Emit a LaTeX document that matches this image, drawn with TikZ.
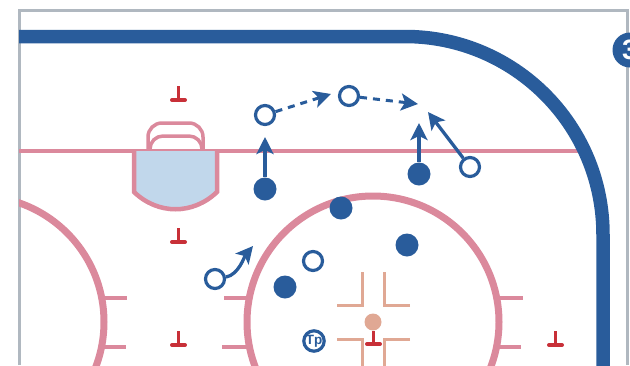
\documentclass[tikz,border=0pt]{standalone}
\usepackage{fontspec}
\setmainfont{Liberation Sans}
\usetikzlibrary{arrows.meta,positioning}
\definecolor{RinkBlue}{RGB}{41,92,155}
\definecolor{RinkPink}{RGB}{219,137,156}
\definecolor{RinkGray}{RGB}{176,184,192}
\definecolor{RinkRed}{RGB}{200,48,56}
\definecolor{RinkSalmon}{RGB}{224,168,148}
\definecolor{CreaseBlue}{RGB}{193,215,235}

\begin{document}
\begin{tikzpicture}[
  x=1pt,y=-1pt,
  pinkline/.style={draw=RinkPink,line width=4pt},
  redmark/.style={draw=RinkRed,line width=3pt},
  redbase/.style={draw=RinkRed,line width=4pt,line cap=round},
  salmonline/.style={draw=RinkSalmon,line width=3pt},
  filledplayer/.style={circle,fill=RinkBlue,minimum size=23pt,inner sep=0pt},
  openplayer/.style={circle,draw=RinkBlue,fill=white,line width=3.2pt,minimum size=19pt,inner sep=0pt},
  move/.style={-{Stealth[length=17pt,width=17pt,inset=4pt]},draw=RinkBlue,line width=3.3pt},
  dashmove/.style={move,line width=3pt,dash pattern=on 7pt off 6pt},
]
\clip (0,0) rectangle (630,365);
% frame
\draw[RinkGray,line width=3pt] (19,365) -- (19,10) -- (627,10) -- (627,365);
% goal line
\draw[pinkline] (19,151) -- (585,151);
% boards
\draw[RinkBlue,line width=13.5pt] (19,36.5) -- (405,36.5)
  arc[start angle=90,end angle=0,radius=198pt] -- (603,370);
% net
\draw[pinkline,line width=3.5pt,rounded corners=14pt] (148,151) -- (148,123) -- (203,123) -- (203,151);
\draw[pinkline,line width=3.5pt,rounded corners=13pt] (150,151) -- (150,136) -- (202,136) -- (202,151);
% crease
\draw[pinkline,line width=4.5pt,fill=CreaseBlue] (134,151) -- (134,192)
  .. controls (158,215) and (193,215) .. (217,192) -- (217,151);
% circles
\begin{scope}
\clip (19,0) rectangle (630,365);
\draw[pinkline,line width=7pt] (-22,322) circle (126);
\end{scope}
\draw[pinkline,line width=7pt] (373,322) circle (126);
% hash marks
\draw[pinkline] (104,298) -- (127,298);
\draw[pinkline] (104,347) -- (126,347);
\draw[pinkline] (224,298) -- (248,298);
\draw[pinkline] (222,347) -- (247,347);
\draw[pinkline] (498,298) -- (523,298);
\draw[pinkline] (498,347) -- (521,347);
% faceoff lines
\draw[salmonline] (337,305) -- (362,305) -- (362,272);
\draw[salmonline] (410,305) -- (384,305) -- (384,272);
\draw[salmonline] (337,339) -- (362,339) -- (362,370);
\draw[salmonline] (410,339) -- (384,339) -- (384,370);
\node[circle,fill=RinkSalmon,minimum size=17pt,inner sep=0pt] (dot) at (373,322) {};
% red marks
\draw[redmark] (178,86) -- (178,100);
\draw[redbase] (172,100) -- (185,100);
\draw[redmark] (178,228) -- (178,242);
\draw[redbase] (172,242) -- (185,242);
\draw[redmark] (178,331) -- (178,345);
\draw[redbase] (172,345) -- (185,345);
\draw[redmark] (373,331) -- (373,344);
\draw[redbase] (367,344) -- (380,344);
\draw[redmark] (555,331) -- (555,345);
\draw[redbase] (549,345) -- (562,345);
% players
\node[filledplayer] (f1) at (265,189) {};
\node[filledplayer] (f2) at (419,174) {};
\node[filledplayer] (f3) at (341,208) {};
\node[filledplayer] (f4) at (407,245) {};
\node[filledplayer] (f5) at (285,287) {};
\node[openplayer] (o1) at (265,115) {};
\node[openplayer] (o2) at (349,96) {};
\node[openplayer] (o3) at (470,167) {};
\node[openplayer] (o4) at (215,279) {};
\node[openplayer] (o5) at (313,261) {};
\node[openplayer,font=\bfseries\fontsize{13.5}{14}\selectfont,text=RinkBlue] (tp) at (314,341) {Tp};
% moves
\coordinate (t1) at (265,137);
\coordinate (t2) at (419,123);
\coordinate (t3) at (428,112);
\coordinate (t4) at (331,94);
\coordinate (t5) at (418,104);
\coordinate (t6) at (253,246);
\draw[move] (f1) -- (t1);
\draw[move] (f2) -- (t2);
\draw[move] (o3) -- (t3);
\draw[dashmove] (o1) -- (t4);
\draw[dashmove] (o2) -- (t5);
\draw[move] (o4) to[out=10,in=-130,looseness=0.8] (t6);
% badge
\node[circle,fill=RinkBlue,minimum size=35pt,inner sep=0pt,text=white,font=\bfseries\fontsize{28}{28}\selectfont] (badge) at (630,50) {3};
\end{tikzpicture}
\end{document}
